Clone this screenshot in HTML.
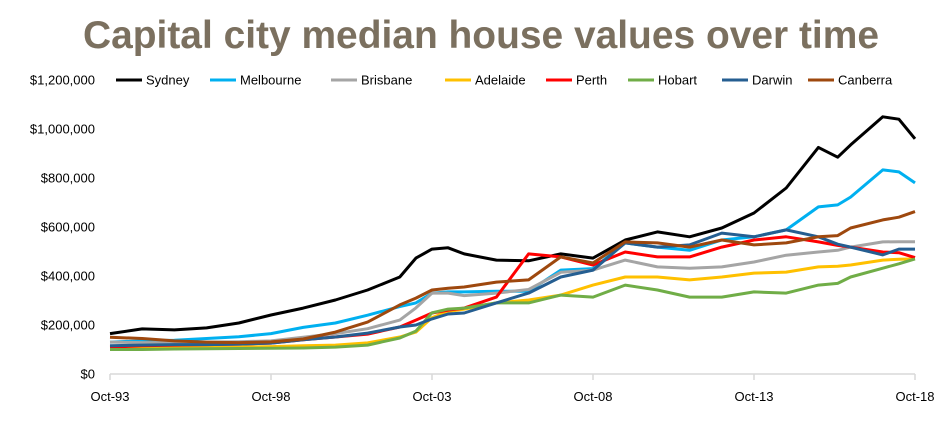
<!DOCTYPE html>
<html><head><meta charset="utf-8"><style>
body{margin:0;background:#fff;width:952px;height:427px;overflow:hidden}
svg text{font-family:"Liberation Sans",sans-serif}
</style></head><body>
<svg id="chart" width="952" height="427" xmlns="http://www.w3.org/2000/svg">
<text x="481" y="48" text-anchor="middle" font-size="39" font-weight="bold" fill="#7b705f" textLength="796" lengthAdjust="spacingAndGlyphs">Capital city median house values over time</text>
<g id="yaxis"></g>
<g id="xaxis"></g>
<g id="series"></g>
<g id="legend"></g>
</svg>
<script>
const times = [0,1,2,3,4,5,6,7,8,9,9.5,10,10.5,11,12,13,14,15,16,17,18,19,20,21,22,22.6,23,24,24.5,25];
const xTickLabels = ["Oct-93","Oct-98","Oct-03","Oct-08","Oct-13","Oct-18"];
const xTickYears = [0,5,10,15,20,25];
const yTicks = [0,200,400,600,800,1000,1200];
const yTickLabels = ["$0","$200,000","$400,000","$600,000","$800,000","$1,000,000","$1,200,000"];
const seriesNames = ["Sydney","Melbourne","Brisbane","Adelaide","Perth","Hobart","Darwin","Canberra"];
const seriesColors = ["#000000","#00b0f0","#a5a5a5","#ffc000","#ff0000","#70ad47","#255e91","#9e480e"];
const sydney = [165,184,180,188,208,241,269,302,343,396,473,510,515,490,465,462,490,473,547,580,560,596,657,759,925,885,935,1050,1040,960];
const melbourne = [130,135,138,145,152,165,190,208,240,275,290,330,335,335,338,338,424,430,535,518,505,547,560,588,682,690,722,833,825,780];
const brisbane = [130,128,128,130,132,135,150,165,185,220,270,330,330,320,330,345,415,424,465,437,432,437,457,485,498,505,518,539,540,540];
const adelaide = [105,106,108,108,110,112,115,118,127,151,171,230,255,265,290,302,322,363,396,396,384,396,412,416,437,440,445,465,468,470];
const perth = [110,115,118,120,122,126,140,151,163,192,220,249,261,269,314,490,478,445,498,478,478,518,547,560,539,525,518,498,495,475];
const hobart = [100,100,102,103,104,105,106,110,118,147,175,250,265,269,290,290,322,314,363,343,314,314,335,330,363,370,396,432,450,470];
const darwin = [115,118,120,120,122,126,140,151,167,192,200,225,245,249,290,330,396,424,535,518,527,575,560,588,560,530,518,486,510,510];
const canberra = [150,145,135,130,128,131,143,171,212,282,310,343,350,355,375,384,478,453,539,535,518,547,527,535,560,565,596,629,640,663];
const seriesData = [sydney,melbourne,brisbane,adelaide,perth,hobart,darwin,canberra];

const NS="http://www.w3.org/2000/svg";
const X0=110,X1=915,Y0=374,Y1=80;
function xs(t){return X0+(X1-X0)*t/25;}
function ys(v){return Y0-(Y0-Y1)*v/1200;}
function mk(tag,attrs,parent){const e=document.createElementNS(NS,tag);for(const k in attrs)e.setAttribute(k,attrs[k]);parent.appendChild(e);return e;}

const ya=document.getElementById('yaxis');
yTicks.forEach((v,i)=>{
  const t=mk('text',{x:95,y:ys(v)+4.5,'text-anchor':'end','font-size':'13',fill:'#000'},ya);
  
  
  t.textContent=yTickLabels[i];
});
const xa=document.getElementById('xaxis');
const axl=mk('line',{x1:X0,y1:Y0,x2:X1,y2:Y0,stroke:'#d9d9d9','stroke-width':1.5},xa);


xTickYears.forEach((yr,i)=>{
  const tk=mk('line',{x1:xs(yr),y1:Y0,x2:xs(yr),y2:Y0+6,stroke:'#d9d9d9','stroke-width':1.5},xa);
  
  
  const t=mk('text',{x:xs(yr),y:401,'text-anchor':'middle','font-size':'13',fill:'#000'},xa);
  
  
  t.textContent=xTickLabels[i];
});
const sg=document.getElementById('series');
seriesData.forEach((d,i)=>{
  const pts=d.map((v,j)=>xs(times[j]).toFixed(1)+','+ys(v).toFixed(1)).join(' ');
  const p=mk('polyline',{points:pts,fill:'none',stroke:seriesColors[i],'stroke-width':3,'stroke-linejoin':'round'},sg);
  
  
});
const lg=document.getElementById('legend');
const lx=[116,210,331,445,546,628,722,808];
seriesNames.forEach((n,i)=>{
  const g=mk('g',{},lg);
  
  
  mk('line',{x1:lx[i],y1:80,x2:lx[i]+26,y2:80,stroke:seriesColors[i],'stroke-width':3},g);
  const t=mk('text',{x:lx[i]+30,y:84.5,'font-size':'13',fill:'#000'},g);
  t.textContent=n;
});
</script>
</body></html>
